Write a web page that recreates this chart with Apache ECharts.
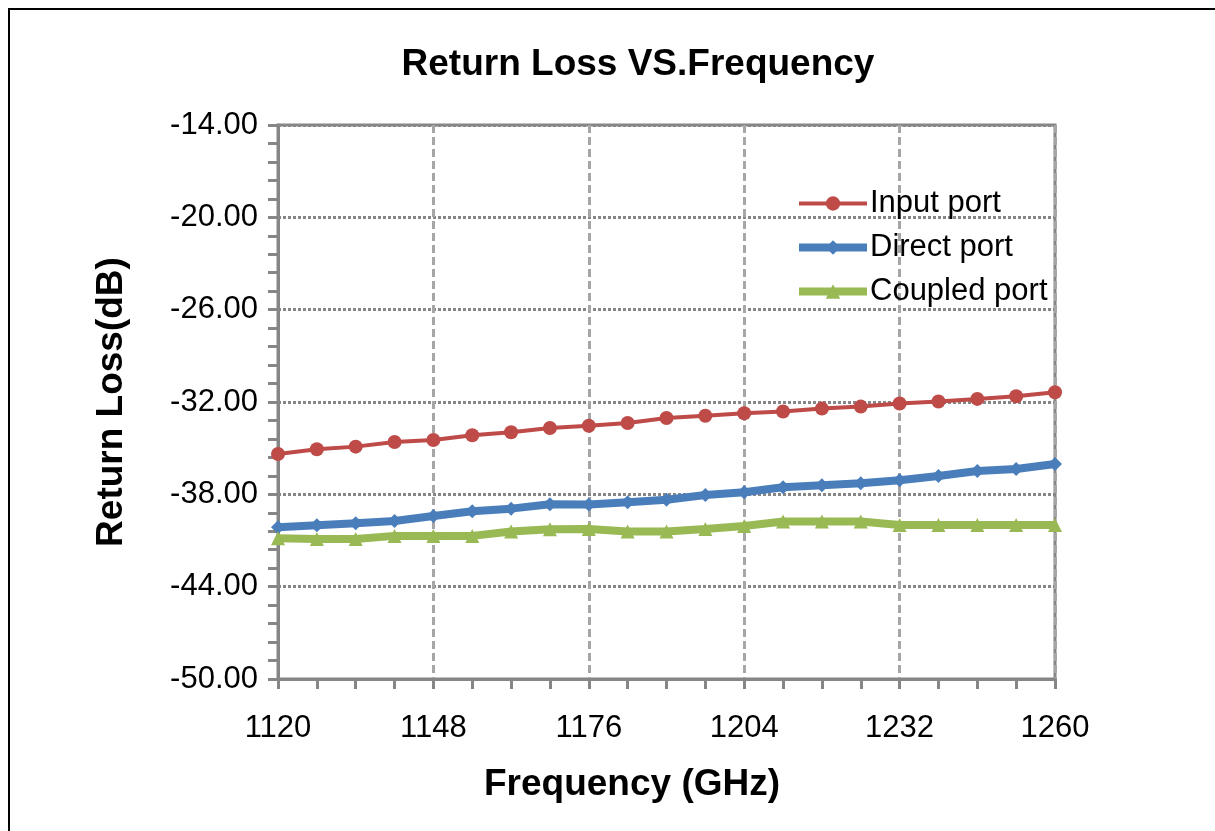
<!DOCTYPE html>
<html>
<head>
<meta charset="utf-8">
<script src="https://cdn.jsdelivr.net/npm/echarts@6/dist/echarts.min.js"></script>
<style>html,body{margin:0;padding:0;background:#fff}#c{width:1215px;height:831px}</style>
</head>
<body>
<div id="c"></div>
<script>
const freqs = [1120,1127,1134,1141,1148,1155,1162,1169,1176,1183,1190,1197,1204,1211,1218,1225,1232,1239,1246,1253,1260];
const inputPort = [-35.38,-35.07,-34.90,-34.60,-34.47,-34.16,-33.97,-33.69,-33.54,-33.36,-33.04,-32.89,-32.73,-32.62,-32.43,-32.30,-32.10,-31.97,-31.80,-31.63,-31.37];
const directPort = [-40.14,-40.01,-39.88,-39.73,-39.41,-39.10,-38.93,-38.65,-38.66,-38.51,-38.35,-38.04,-37.87,-37.54,-37.41,-37.28,-37.08,-36.81,-36.48,-36.35,-36.03];
const coupledPort = [-40.85,-40.90,-40.90,-40.70,-40.70,-40.70,-40.42,-40.27,-40.25,-40.42,-40.42,-40.25,-40.06,-39.77,-39.77,-39.77,-39.99,-39.99,-39.99,-39.99,-39.99];
const seriesNames = ['Input port','Direct port','Coupled port'];
const titleText = 'Return Loss VS.Frequency';
const xName = 'Frequency (GHz)';
const yName = 'Return Loss(dB)';

const tickFont = '"Liberation Sans",Arial,sans-serif';
const boldFont = '"Liberation Sans",Arial,sans-serif';
const pair = arr => freqs.map((f,i)=>[f,arr[i]]);
const colors = ['#BE4B48','#4A7EBB','#98B954'];
const widths = [4,8,8];

const chart = echarts.init(document.getElementById('c'), null, {renderer:'canvas'});
chart.setOption({
  animation:false,
  backgroundColor:'#fff',
  graphic:[
    {type:'rect',shape:{x:9,y:9,width:1220,height:830},style:{fill:'none',stroke:'#000',lineWidth:2},silent:true},
    {type:'text',position:[638,65],style:{text:titleText,fontFamily:boldFont,fontWeight:'bold',fontSize:37,fill:'#000',textAlign:'center',textVerticalAlign:'middle'},silent:true},
    {type:'text',position:[632,785],style:{text:xName,fontFamily:boldFont,fontWeight:'bold',fontSize:37,fill:'#000',textAlign:'center',textVerticalAlign:'middle'},silent:true},
    {type:'text',position:[112,402],rotation:Math.PI/2,style:{text:yName,fontFamily:boldFont,fontWeight:'bold',fontSize:37,fill:'#000',textAlign:'center',textVerticalAlign:'middle'},silent:true}
  ],
  grid:{left:278,top:125,width:777,height:554,show:true,borderColor:'#868686',borderWidth:3,backgroundColor:'transparent'},
  legend:{orient:'vertical',left:790,top:183,itemWidth:68,itemHeight:18,itemGap:13,
    textStyle:{fontFamily:tickFont,fontSize:31,color:'#000',padding:[0,0,0,-2]},
    data:seriesNames.map((n,i)=>({name:n,lineStyle:{width:widths[i],color:colors[i]}}))},
  xAxis:{type:'value',min:1120,max:1260,interval:28,
    axisLine:{show:true,lineStyle:{color:'#868686',width:3}},
    axisTick:{show:true,length:10,lineStyle:{color:'#868686',width:3}},
    minorTick:{show:true,splitNumber:4,length:10,lineStyle:{color:'#868686',width:3}},
    axisLabel:{fontFamily:tickFont,fontSize:31,color:'#000',margin:34,formatter:v=>String(v)},
    splitLine:{show:true,lineStyle:{color:'#A6A6A6',width:3,type:[8,4]}}},
  yAxis:{type:'value',min:-50,max:-14,interval:6,
    axisLine:{show:true,lineStyle:{color:'#868686',width:3}},
    axisTick:{show:true,length:10,lineStyle:{color:'#868686',width:3}},
    minorTick:{show:true,splitNumber:5,length:10,lineStyle:{color:'#868686',width:3}},
    axisLabel:{fontFamily:tickFont,fontSize:31,color:'#000',margin:20,formatter:v=>v.toFixed(2)},
    splitLine:{show:true,lineStyle:{color:'#868686',width:3,type:[3,2]}}},
  series:[
    {name:seriesNames[0],type:'line',data:pair(inputPort),symbol:'circle',symbolSize:14,
      itemStyle:{color:colors[0]},lineStyle:{color:colors[0],width:widths[0]}},
    {name:seriesNames[1],type:'line',data:pair(directPort),symbol:'diamond',symbolSize:14,
      itemStyle:{color:colors[1]},lineStyle:{color:colors[1],width:widths[1]}},
    {name:seriesNames[2],type:'line',data:pair(coupledPort),symbol:'triangle',symbolSize:14,
      itemStyle:{color:colors[2]},lineStyle:{color:colors[2],width:widths[2]}}
  ]
});
</script>
</body>
</html>
